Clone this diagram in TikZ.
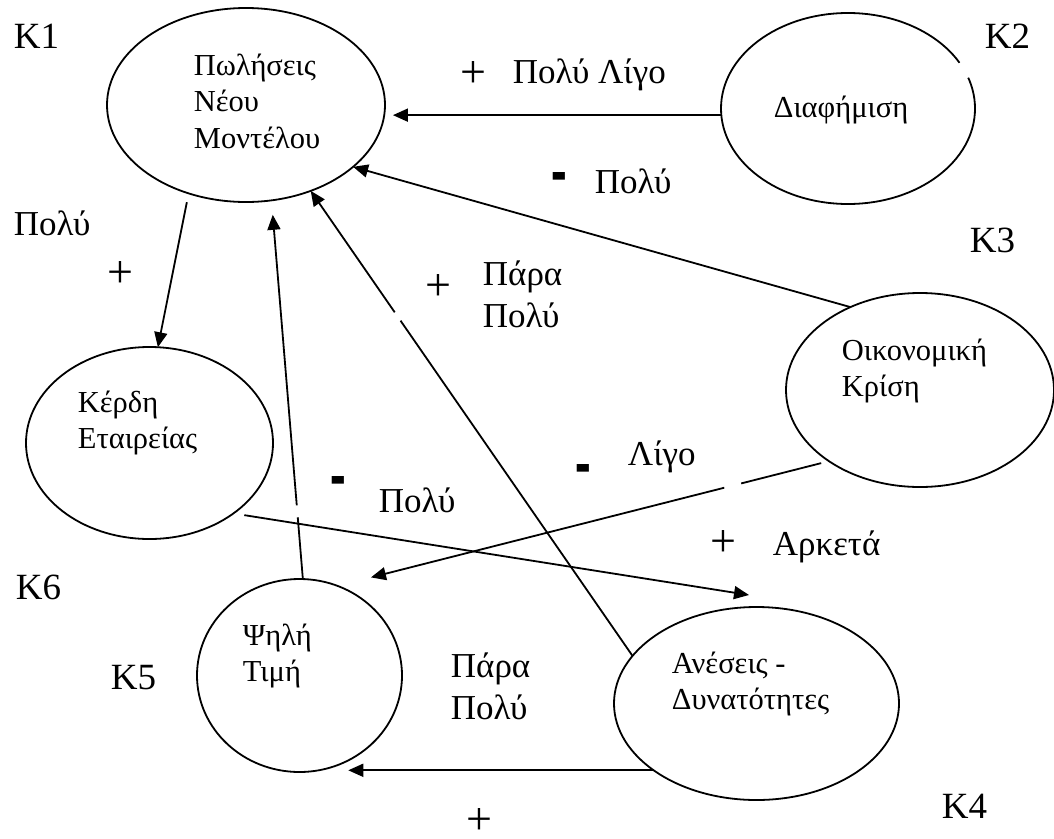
\documentclass[tikz,border=0pt]{standalone}
\usepackage{fontspec}
\setmainfont{Liberation Serif}
\usepackage{graphicx}
\usetikzlibrary{shapes.geometric,arrows.meta}
% stacked lines whose baseline is the first line
\newcommand{\twolines}[2]{\vtop{\hbox{#1}\hbox{#2}}}
\newcommand{\threelines}[3]{\vtop{\hbox{#1}\hbox{#2}\hbox{#3}}}
\newcommand{\fatdash}{\scalebox{1.3}[2.5]{\textbf{-}}}
\begin{document}
\begin{tikzpicture}[x=1pt,y=-1pt,
  line width=1.8pt,
  oval/.style={ellipse, draw, inner sep=0pt, outer sep=0pt},
  ovaltext/.style={anchor=base west, inner sep=0pt, font=\fontsize{30.5}{36.5}\selectfont},
  tag/.style={anchor=base west, inner sep=0pt, font=\fontsize{37}{42}\selectfont},
  weight/.style={anchor=base west, inner sep=0pt, font=\fontsize{35}{42.5}\selectfont},
  sign/.style={anchor=center, inner sep=0pt, font=\fontsize{46}{46}\selectfont},
  minussign/.style={anchor=center, inner sep=0pt, font=\fontsize{36}{36}\selectfont},
  link/.style={-{Triangle[length=15pt,width=13pt]}},
]
\useasboundingbox (0,0) rectangle (1054,838);

% concepts
\node[oval, minimum width=278pt, minimum height=194pt] (k1) at (246,105) {};
\node[oval, minimum width=254pt, minimum height=191pt,
      dash pattern=on 31.8pt off 17.3pt on 720pt] (k2) at (848,108.5) {};
\node[oval, minimum width=268pt, minimum height=194pt] (k3) at (920,390) {};
\node[oval, minimum width=285pt, minimum height=193pt] (k4) at (756.5,703.5) {};
\node[oval, minimum width=205pt, minimum height=193pt] (k5) at (299.5,675.5) {};
\node[oval, minimum width=247pt, minimum height=192pt] (k6) at (149.5,443) {};

\node[ovaltext] (t1) at (193,75) {\threelines{Πωλήσεις}{Νέου}{Μοντέλου}};
\node[ovaltext] (t2) at (773,117) {Διαφήμιση};
\node[ovaltext] (t3) at (841,360) {\twolines{Οικονομική}{Κρίση}};
\node[ovaltext] (t4) at (671,673) {\twolines{Ανέσεις -}{Δυνατότητες}};
\node[ovaltext] (t5) at (242,645) {\twolines{Ψηλή}{Τιμή}};
\node[ovaltext] (t6) at (77,412) {\twolines{Κέρδη}{Εταιρείας}};

% concept tags
\node[tag] (c1) at (13,48) {K1};
\node[tag] (c2) at (984,48) {K2};
\node[tag] (c3) at (969,252) {K3};
\node[tag] (c4) at (941,818) {K4};
\node[tag] (c5) at (110,689) {K5};
\node[tag] (c6) at (15,599) {K6};

% influences
\draw[link, shorten >=9pt] (k2.183.8) -- (k2.183.8 -| k1.-5);
\draw[link] (k3.130.5) -- (k1.-30);
\draw[link, dash pattern=on 407.7pt off 10.2pt on 600pt] (k4.159.5) -- (k1.-53.7);
\draw[link, shorten >=14.5pt, dash pattern=on 62pt off 12pt on 600pt] (k5.88) -- (k1.-75);
\draw[link, shorten <=9pt] (k1.-123) -- (k6.85.6);
\coordinate (k4tip) at (749,595);
\draw[link, shorten <=11pt] (k6.-40.8) -- (k4tip);
\draw[link, shorten <=8pt, shorten >=34.5pt,
      dash pattern=on 82.5pt off 17.5pt on 600pt] (k3.-142.1) -- (k5.67.6);
\draw[link, shorten >=27pt] (k4.-147.6) -- (k4.-147.6 -| k5.-77.6);

% signs and weights
\node[sign] (s1) at (473,75) {+};
\node[weight] (w1) at (512,83) {Πολύ Λίγο};
\node[minussign] (m1) at (559,185) {\fatdash};
\node[weight] (w2) at (594,193) {Πολύ};
\node[weight] (w3) at (13,235) {Πολύ};
\node[sign] (s2) at (120,275) {+};
\node[sign] (s3) at (438,288) {+};
\node[weight] (w4) at (482,285) {\twolines{Πάρα}{Πολύ}};
\node[minussign] (m2) at (338,489) {\fatdash};
\node[weight] (w5) at (378,512) {Πολύ};
\node[minussign] (m3) at (583,477) {\fatdash};
\node[weight] (w6) at (627,465) {Λίγο};
\node[sign] (s4) at (723,543) {+};
\node[weight] (w7) at (772,555) {Αρκετά};
\node[weight] (w8) at (450,677) {\twolines{Πάρα}{Πολύ}};
\node[sign] (s5) at (479,821) {+};
\end{tikzpicture}
\end{document}
